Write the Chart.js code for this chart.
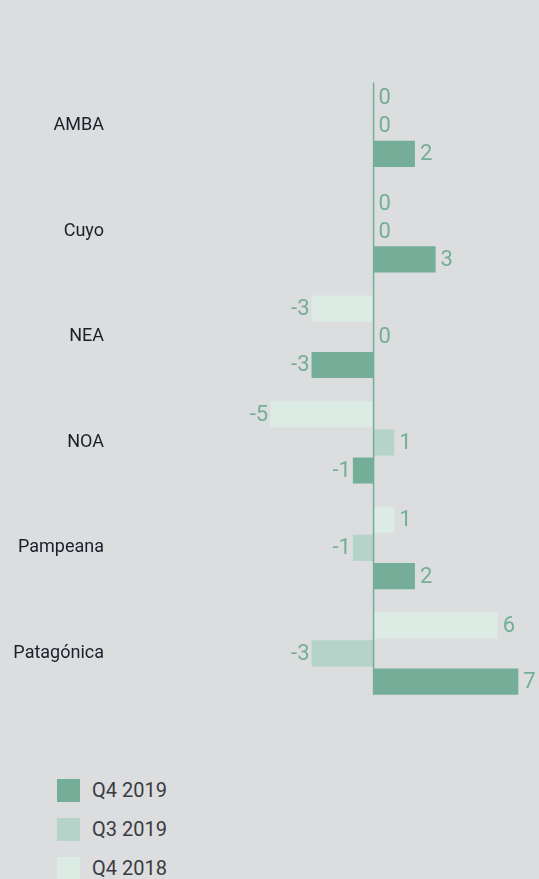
<!DOCTYPE html>
<html>
<head>
<meta charset="utf-8">
<script src="https://cdn.jsdelivr.net/npm/chart.js@4.4.1/dist/chart.umd.min.js"></script>
<style>
    html, body { margin: 0; padding: 0; background: #dcdddf; }
    body { width: 539px; height: 879px; overflow: hidden; position: relative; font-family: Roboto, sans-serif; }
    #wrap { position: absolute; left: 0; top: 0; width: 539px; height: 725px; }
    #legend { position: absolute; left: 57px; top: 778px; }
    .item { display: flex; align-items: center; height: 24px; margin-bottom: 15px; }
    .box { width: 23px; height: 23px; margin-right: 12px; }
    .item span { font-size: 20px; color: #3b3b3f; }
</style>
</head>
<body>
<div id="wrap"><canvas id="regionChart"></canvas></div>
<div id="legend"></div>
<script>
// datos por región
const regions = ['AMBA', 'Cuyo', 'NEA', 'NOA', 'Pampeana', 'Patagónica'];
const seriesNames = ['Q4 2018', 'Q3 2019', 'Q4 2019'];
const q4_2018 = [0, 0, -3, -5, 1, 6];
const q3_2019 = [0, 0, 0, 1, -1, -3];
const q4_2019 = [2, 3, -3, -1, 2, 7];
const seriesColors = ['#dcebe4', '#b5d3c8', '#74ae99'];

const labelColor = '#74ae99';

// etiquetas de valor al final de cada barra
const valueLabels = {
    id: 'valueLabels',
    afterDatasetsDraw(chart) {
        const ctx = chart.ctx;
        ctx.save();
        ctx.font = '22px Roboto';
        ctx.fillStyle = labelColor;
        ctx.textBaseline = 'middle';
        chart.data.datasets.forEach((ds, i) => {
            chart.getDatasetMeta(i).data.forEach((bar, j) => {
                const v = ds.data[j];
                if (v < 0) {
                    ctx.textAlign = 'right';
                    ctx.fillText(String(v), bar.x - 2, bar.y + 1);
                } else {
                    ctx.textAlign = 'left';
                    ctx.fillText(String(v), bar.x + 5, bar.y + 1);
                }
            });
        });
        ctx.restore();
    }
};

// línea del cero
const zeroLine = {
    id: 'zeroLine',
    afterDatasetsDraw(chart) {
        const ctx = chart.ctx;
        const x = chart.scales.x.getPixelForValue(0);
        const first = chart.getDatasetMeta(0).data[0];
        const lastMeta = chart.getDatasetMeta(chart.data.datasets.length - 1);
        const last = lastMeta.data[lastMeta.data.length - 1];
        ctx.save();
        ctx.strokeStyle = labelColor;
        ctx.lineWidth = 1.5;
        ctx.beginPath();
        ctx.moveTo(x, first.y - first.height / 2 - 2);
        ctx.lineTo(x, last.y + last.height / 2);
        ctx.stroke();
        ctx.restore();
    }
};

const chart = new Chart(document.getElementById('regionChart'), {
    type: 'bar',
    data: {
        labels: regions,
        datasets: [
            { label: seriesNames[0], data: q4_2018, backgroundColor: seriesColors[0] },
            { label: seriesNames[1], data: q3_2019, backgroundColor: seriesColors[1] },
            { label: seriesNames[2], data: q4_2019, backgroundColor: seriesColors[2] }
        ]
    },
    options: {
        indexAxis: 'y',
        responsive: true,
        maintainAspectRatio: false,
        animation: false,
        categoryPercentage: 0.8,
        barPercentage: 0.93,
        layout: { padding: { top: 73, right: 0, bottom: 0, left: 0 } },
        scales: {
            x: {
                display: false,
                min: -12.65,
                max: 8
            },
            y: {
                afterFit: scale => { scale.width = 112; },
                border: { display: false },
                grid: { display: false, drawTicks: false },
                ticks: {
                    padding: 8,
                    color: '#1e1e2a',
                    font: { family: 'Roboto', size: 18 }
                }
            }
        },
        plugins: {
            legend: { display: false },
            tooltip: { enabled: false }
        }
    },
    plugins: [zeroLine, valueLabels]
});

// leyenda en orden inverso
const legend = document.getElementById('legend');
chart.data.datasets.slice().reverse().forEach(ds => {
    const item = document.createElement('div');
    item.className = 'item';
    item.innerHTML = '<div class="box" style="background:' + ds.backgroundColor + '"></div><span>' + ds.label + '</span>';
    legend.appendChild(item);
});
</script>
</body>
</html>
